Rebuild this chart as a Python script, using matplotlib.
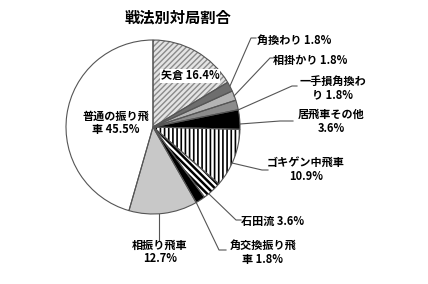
import matplotlib.pyplot as plt

plt.rcParams['font.family'] = ['Noto Sans CJK JP', 'DejaVu Sans']
plt.rcParams['hatch.linewidth'] = 1.6

# data (clockwise from 12 o'clock)
names = ['矢倉', '角換わり', '相掛かり', '一手損角換わり', '居飛車その他',
         'ゴキゲン中飛車', '石田流', '角交換振り飛車', '相振り飛車', '普通の振り飛車']
shares = [16.4, 1.8, 1.8, 1.8, 3.6, 10.9, 3.6, 1.8, 12.7, 45.5]
labels = ['矢倉 16.4%', '角換わり 1.8%', '相掛かり 1.8%', '一手損角換わ\nり 1.8%',
          '居飛車その他\n3.6%', 'ゴキゲン中飛車\n10.9%', '石田流 3.6%',
          '角交換振り飛\n車 1.8%', '相振り飛車\n12.7%', '普通の振り飛\n車 45.5%']

faces = ['#e4e4e4', '#6e6e6e', '#b4b4b4', '#8c8c8c', 'black',
         'white', 'white', 'black', '#c8c8c8', 'white']
hatches = ['//////', None, None, None, None, '||||', '\\' * 5, None, None, None]
hatch_cols = ['#8a8a8a', '#6e6e6e', '#b4b4b4', '#8c8c8c', 'black',
              'black', 'black', 'black', '#c8c8c8', 'white']
hatch_lw = [1.0, 1, 1, 1, 1, 1.2, 1.8, 1, 1, 1]

H = 284


def px(x, y):
    # pixel position in the picture -> axes data coords
    return (x, H - y)


fig = plt.figure(figsize=(4.28, 2.84), dpi=100)
ax = fig.add_axes([0, 0, 1, 1])

cx, cy = px(153, 127)
r = 87

wedges, _ = ax.pie(shares, startangle=90, counterclock=False, center=(cx, cy),
                   radius=r, colors=faces, frame=True)
for w, h, hc, hl in zip(wedges, hatches, hatch_cols, hatch_lw):
    w.set_edgecolor(hc)
    w.set_linewidth(0)
    if h:
        w.set_hatch(h)
        try:
            w.set_hatch_linewidth(hl)
        except AttributeError:
            pass
# outlines on top
outl, _ = ax.pie(shares, startangle=90, counterclock=False, center=(cx, cy),
                 radius=r, colors=['none'] * len(shares), frame=True,
                 wedgeprops=dict(edgecolor='#555555', linewidth=0.8))
ax.set_xlim(0, 428)
ax.set_ylim(0, H)
ax.set_aspect('equal')
ax.axis('off')

fs = 8
fw = 'bold'
# title
ax.text(*px(178, 18), '戦法別対局割合', ha='center', va='center',
        fontsize=11, fontweight='bold')

# inside labels
ax.text(*px(190, 76), labels[0], ha='center', va='center', fontsize=fs,
        fontweight=fw, bbox=dict(facecolor='white', edgecolor='none', pad=0.5))
ax.text(*px(116, 123), labels[9], ha='center', va='center', fontsize=fs,
        fontweight=fw, linespacing=1.1)

# outside labels: (edge point, elbow, end, text pos, ha)
outside = {
    1: ((230, 86), (251, 38), (256, 38), (257, 40), 'left'),
    2: ((234, 96), (270, 58), (273, 58), (273, 60), 'left'),
    3: ((238, 110), (292, 86), (297, 86), (333, 88), 'center'),
    4: ((240, 124), (280, 121), (293, 121), (331, 121), 'center'),
    5: ((232, 163), (262, 170), (268, 170), (306, 169), 'center'),
    6: ((209, 194), (236, 220), (241, 220), (241, 221), 'left'),
    7: ((196, 202), (219, 250), (226, 250), (263, 252), 'center'),
    8: ((159, 214), (159, 240), (159, 240), (160, 252), 'center'),
}
for i, (p0, p1, p2, pt, ha) in outside.items():
    xs = [p0[0], p1[0], p2[0]]
    ys = [H - p0[1], H - p1[1], H - p2[1]]
    ax.plot(xs, ys, color='#555555', lw=0.8)
    ax.text(*px(*pt), labels[i], ha=ha, va='center', fontsize=fs,
            fontweight=fw, linespacing=1.1)

fig.savefig('out.png', dpi=100, facecolor='white')
